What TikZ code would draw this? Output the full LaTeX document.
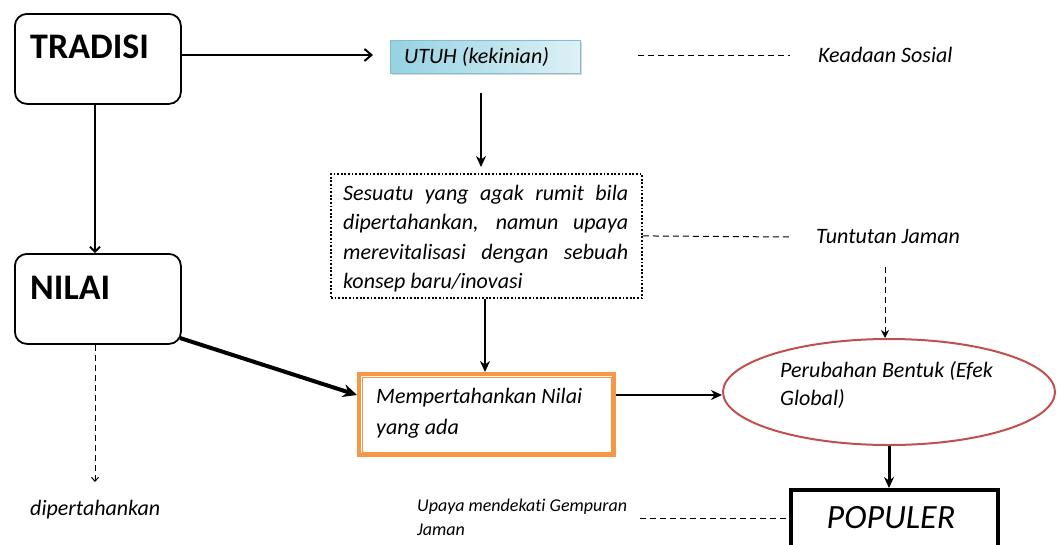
\documentclass[tikz,border=0pt]{standalone}
\usepackage{fontspec}
\setmainfont{Carlito}[Ligatures=NoCommon]
\usetikzlibrary{arrows.meta,shapes.geometric,shadows}
\definecolor{orng}{RGB}{247,150,70}
\definecolor{ellred}{RGB}{192,80,77}
\definecolor{blueL}{RGB}{150,210,226}
\definecolor{blueR}{RGB}{222,241,246}
\definecolor{blueB}{RGB}{130,190,210}
\begin{document}
\begin{tikzpicture}[x=1pt,y=-1pt,
 rbox/.style={draw,line width=1.8pt,rounded corners=12pt,anchor=north west,minimum width=166pt,minimum height=90pt,inner sep=0pt},
 big/.style={font=\fontsize{36}{42}\selectfont\bfseries,anchor=west,inner sep=0pt},
 txt/.style={font=\fontsize{22}{29.5}\selectfont\itshape,inner sep=0pt,align=left},
 small/.style={font=\fontsize{18}{24}\selectfont\itshape,inner sep=0pt,align=left},
 arr/.style={-{Stealth[length=11pt,width=10pt]},line width=2pt},
 openarr/.style={-{Straight Barb[length=7pt,width=12pt,line width=2pt]},line width=2.4pt},
 dsh/.style={line width=1pt,dash pattern=on 6pt off 4pt},
 darr/.style={dsh,-{Stealth[length=8pt,width=8pt]}},
 darro/.style={dsh,-{Straight Barb[length=4pt,width=7pt]}},
]
\useasboundingbox (0,0) rectangle (1057,544);
\begin{scope}
\clip (0,0) rectangle (1057,544);

% left boxes
\node[rbox] (tradisi) at (14,13) {};
\node[big] (tradisiT) at (30,47) {TRADISI};
\node[rbox] (nilai) at (14,253) {};
\node[big] (nilaiT) at (30,288) {NILAI};

% UTUH box
\node[draw=blueB,line width=0.8pt,left color=blueL,right color=blueR,anchor=north west,
      minimum width=190pt,minimum height=33pt,inner sep=0pt,
      drop shadow={shadow xshift=2pt,shadow yshift=-2pt,opacity=0.3}] (utuh) at (390,40) {};
\node[txt,anchor=west] (utuhT) at (404,57) {UTUH (kekinian)};

% dotted box
\node[draw,line width=1.8pt,dash pattern=on 1.8pt off 1.8pt,anchor=north west,
      minimum width=311pt,minimum height=124pt,inner sep=0pt] (rumit) at (330,173) {};
\begin{scope}
\clip (331,174) rectangle (640,296);
\node[txt,anchor=north west,text width=285pt,align=justify] (rumitT) at (343,185)
 {\hyphenpenalty=10000 \exhyphenpenalty=10000 Sesuatu yang agak rumit bila dipertahankan, namun upaya merevitalisasi dengan sebuah konsep baru/inovasi};
\end{scope}

% orange double box
\node[draw=orng,line width=4pt,anchor=north west,minimum width=255pt,minimum height=81pt,inner sep=0pt] (pertahan) at (357,372) {};
\draw[orng,line width=0.8pt] ([shift={(5,5)}]pertahan.north west) rectangle ([shift={(-5,-5)}]pertahan.south east);
\node[txt,anchor=north west,font=\fontsize{22}{31}\selectfont\itshape] (pertahanT) at (376,388) {Mempertahankan Nilai\\yang ada};

% ellipse
\node[ellipse,draw=ellred,line width=2pt,minimum width=332pt,minimum height=106pt,inner sep=0pt] (ubah) at (889,392) {};
\node[txt,anchor=north west,font=\fontsize{22}{28.5}\selectfont\itshape] (ubahT) at (780,361) {Perubahan Bentuk (Efek\\Global)};

% POPULER
\node[draw,line width=3.5pt,anchor=north west,minimum width=207pt,minimum height=80pt,inner sep=0pt] (populer) at (789,488) {};
\node[font=\fontsize{34}{40}\selectfont\itshape,inner sep=0pt] (populerT) at (891,518) {POPULER};
\end{scope}

% side texts
\node[txt,anchor=west] (keadaan) at (818,55) {Keadaan Sosial};
\node[txt,anchor=west] (tuntutan) at (816,237) {Tuntutan Jaman};
\node[small,anchor=north west] (upaya) at (417,499) {Upaya mendekati Gempuran\\Jaman};
\node[txt,anchor=west] (dipert) at (30,510) {dipertahankan};

% coordinates
\coordinate (utuhIn) at (373,55);
\coordinate (u1) at (481,93);
\coordinate (u2) at (481,167);
\coordinate (k1) at (638,55);
\coordinate (k2) at (790,55);
\coordinate (t2) at (790,237);
\coordinate (tt1) at (885,267);
\coordinate (up1) at (640,518);
\coordinate (nd) at (95,482);
\coordinate (nilaiOut) at (180,338);
\coordinate (mid) at (612,395);

% solid connectors
\draw[openarr] (tradisi.east |- utuhIn) -- (utuhIn);
\draw[line width=1.8pt,-{Straight Barb[length=5pt,width=10pt,line width=1.8pt]}] (tradisi.south -| 95,0) -- (nilai.north -| 95,0);
\draw[arr] (u1) -- (u2);
\draw[arr] (rumit.south -| 485,0) -- (pertahan.north -| 485,0);
\draw[line width=4pt,-{Stealth[length=14pt,width=13pt]}] (nilaiOut) -- (pertahan.west |- mid);
\draw[arr] (pertahan.east |- mid) -- (ubah.west |- mid);
\draw[arr,line width=3pt] (ubah.south) -- (populer.north -| ubah.south);

% dashed connectors
\draw[dsh] (k1) -- (k2);
\draw[dsh] (rumit.east) -- (t2);
\draw[darr] (tt1) -- (ubah.north -| tt1);
\draw[dsh] (up1) -- (populer.west |- up1);
\draw[darro] (nilai.south -| 95,0) -- (nd);
\end{tikzpicture}
\end{document}
